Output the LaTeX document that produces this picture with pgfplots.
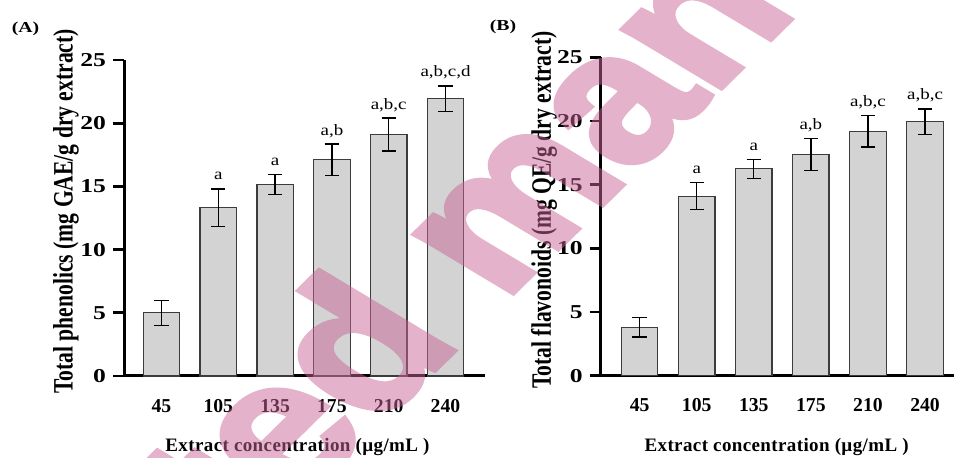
\documentclass[border=0pt]{standalone}
\usepackage{pgfplots}
\pgfplotsset{compat=1.18}
\usepackage{pgfplotstable}
\usepackage{graphicx}
\usepackage{fontspec}
\setmainfont{Liberation Serif}[FakeStretch=1.3]
\newfontfamily\plainserif{Liberation Serif}
\newfontfamily\annfam{Liberation Serif}[FakeStretch=1.2]
\newfontfamily\wmfont{Liberation Sans}[FakeBold=3]
\definecolor{barfill}{RGB}{211,211,211}
\definecolor{baredge}{RGB}{60,60,60}
\definecolor{wmpink}{RGB}{203,101,153}

\pgfplotstableread{
x y e
0 5.00 1.00
1 13.30 1.50
2 15.15 0.80
3 17.10 1.25
4 19.10 1.30
5 21.95 1.00
}\dataA
\pgfplotstableread{
x y e
0 3.80 0.77
1 14.10 1.05
2 16.25 0.75
3 17.35 1.25
4 19.20 1.25
5 19.95 1.00
}\dataB

\pgfplotsset{
  panel/.style={
    scale only axis, anchor=south west, clip=false,
    axis lines=left, axis line style={-, line width=1.5pt, black},
    ybar, bar width=18.2pt,
    ymin=0, ymax=25, ytick={0,5,...,25},
    xtick={0,...,5}, xticklabels={45,105,135,175,210,240},
    tick align=outside, major tick length=5.5pt,
    ytick style={black, line width=1.4pt},
    xtick style={draw=none},
    /pgf/number format/assume math mode=true,
    yticklabel style={font=\fontsize{9.85}{12}\selectfont\bfseries},
    xticklabel style={font=\plainserif\fontsize{9.85}{12}\selectfont\bfseries, yshift=-2.5pt},
  },
  barplot/.style={fill=barfill, draw=baredge, line width=0.6pt,
    error bars/.cd, y dir=both, y explicit,
    error bar style={line width=0.65pt, black},
    error mark options={rotate=90, mark size=3.6pt, line width=0.65pt, black}},
}
\newcommand\annfont{\annfam\fontsize{7.9}{9}\selectfont}
\newcommand\xlab{\plainserif\fontsize{9.5}{11}\selectfont\bfseries\addfontfeature{LetterSpace=2}Extract concentration (µg/mL )}

\begin{document}
\begin{tikzpicture}
\path[use as bounding box] (0,0) rectangle (477pt,229pt);

% Panel A
\begin{axis}[panel, at={(62pt,41pt)}, width=180.5pt, height=158pt,
  xmin=-0.66, xmax=5.695,
  xlabel={\xlab},
  xlabel style={at={(axis description cs:0.4806,-0.2237)}, anchor=center},
  ylabel={\scalebox{1}[1.3]{\plainserif\fontsize{10.8}{12}\selectfont\bfseries Total phenolics (mg GAE/g dry extract)}},
  ylabel style={at={(axis description cs:-0.1607,0.5206)}, anchor=center},
]
\addplot[barplot] table[x=x, y=y, y error=e]{\dataA};
\node[anchor=base, font=\annfont, yshift=4.5pt] at (axis cs:1,14.80) {a};
\node[anchor=base, font=\annfont, yshift=4.5pt] at (axis cs:2,15.95) {a};
\node[anchor=base, font=\annfont, yshift=4.5pt] at (axis cs:3,18.35) {a,b};
\node[anchor=base, font=\annfont, yshift=4.5pt] at (axis cs:4,20.40) {a,b,c};
\node[anchor=base, font=\annfont, yshift=4.5pt] at (axis cs:5,22.95) {a,b,c,d};
\end{axis}

% Panel B
\begin{axis}[panel, at={(300.35pt,41.15pt)}, width=176.65pt, height=159.2pt,
  xmin=-0.683, xmax=5.508,
  xlabel={\xlab},
  xlabel style={at={(axis description cs:0.498,-0.223)}, anchor=center},
  ylabel={\scalebox{1}[1.3]{\plainserif\fontsize{10.8}{12}\selectfont\bfseries Total flavonoids (mg QE/g dry extract)}},
  ylabel style={at={(axis description cs:-0.1605,0.5204)}, anchor=center},
]
\addplot[barplot] table[x=x, y=y, y error=e]{\dataB};
\node[anchor=base, font=\annfont, yshift=4.5pt] at (axis cs:1,15.15) {a};
\node[anchor=base, font=\annfont, yshift=4.5pt] at (axis cs:2,17.00) {a};
\node[anchor=base, font=\annfont, yshift=4.5pt] at (axis cs:3,18.60) {a,b};
\node[anchor=base, font=\annfont, yshift=4.5pt] at (axis cs:4,20.45) {a,b,c};
\node[anchor=base, font=\annfont, yshift=4.5pt] at (axis cs:5,20.95) {a,b,c};
\end{axis}

% panel labels
\node[font=\fontsize{7.6}{9}\selectfont\bfseries] at (12.75pt,214.75pt) {(A)};
\node[font=\fontsize{7.6}{9}\selectfont\bfseries] at (251.5pt,215.5pt) {(B)};

% watermark
\begin{scope}[transparency group, opacity=0.5]
\begin{scope}[shift={(-92.65pt,-260.95pt)}, xscale=1.3]
\node[rotate=52, transform shape, anchor=base west, inner sep=0pt, outer sep=0pt,
  text=wmpink, draw=none,
  font=\wmfont\bfseries\fontsize{90}{90}\selectfont] at (0,0) {Accepted manuscript};
\end{scope}
\end{scope}
\end{tikzpicture}
\end{document}
